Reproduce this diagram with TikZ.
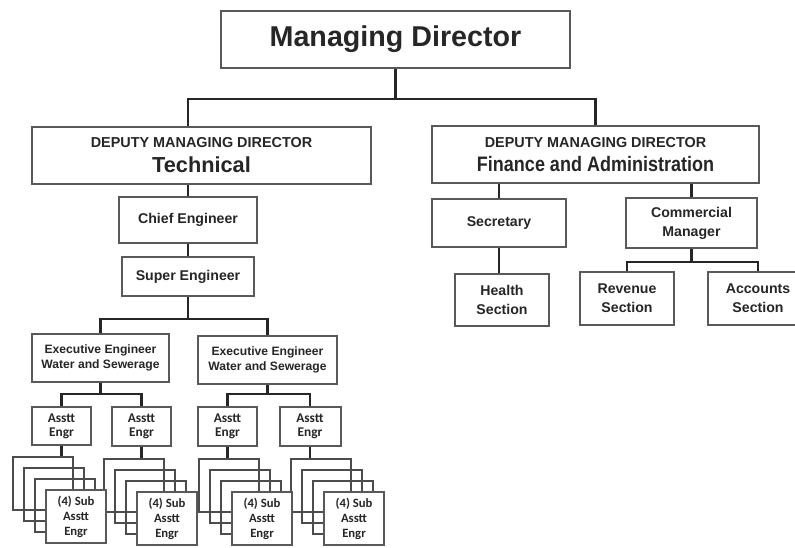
\documentclass[tikz,border=0pt]{standalone}
\usepackage{fontspec}
\usepackage{graphicx}
\setmainfont{Liberation Sans}
\newfontfamily\carl{Carlito}
\usetikzlibrary{calc,backgrounds}

\begin{document}
\begin{tikzpicture}[x=0.75pt,y=-0.75pt,
  wh/.style 2 args={minimum width=#1*0.75pt, minimum height=#2*0.75pt},
  box/.style={draw=black!65, line width=1.5pt, fill=white, inner sep=0pt,
              outer sep=0pt, align=center, text=black!85},
  back/.style={draw=black!70, line width=1.3pt, inner sep=0pt, outer sep=0pt,
               minimum width=45pt, minimum height=39.75pt},
  link/.style={draw=black!85, line width=2pt},
  bigtxt/.style={font=\bfseries\fontsize{21.5}{26}\selectfont},
  deptxt/.style={font=\bfseries\fontsize{10}{12}\selectfont},
  midtxt/.style={font=\bfseries\fontsize{10.6}{14.25}\selectfont},
  exectxt/.style={font=\bfseries\fontsize{9.1}{11.25}\selectfont},
  assttxt/.style={font=\carl\bfseries\fontsize{10}{10.75}\selectfont},
  subtxt/.style={font=\carl\bfseries\fontsize{9.5}{11.25}\selectfont}]

\useasboundingbox (0,0) rectangle (795,547);

% top level
\node[box, bigtxt, wh={349}{57}] (md) at (395.5,39.5) {Managing Director};

% deputies
\node[box, deptxt, wh={339}{57}] (tech) at (201.5,155)
  {{\bfseries\fontsize{10.8}{13}\selectfont DEPUTY MANAGING DIRECTOR}\\[7.25pt]
   {\bfseries\fontsize{16.3}{19}\selectfont Technical}};
\node[box, deptxt, wh={327}{57}] (fin) at (595.5,154.5)
  {{\bfseries\fontsize{10.8}{13}\selectfont DEPUTY MANAGING DIRECTOR}\\[6pt]
   {\bfseries\fontsize{15.7}{19}\selectfont\scalebox{0.86}[1]{Finance and Administration}}};

% technical branch
\node[box, midtxt, wh={138}{46}] (chief) at (188,220) {Chief Engineer};
\node[box, midtxt, wh={132}{39}] (super) at (188,276.5) {Super Engineer};
\node[box, exectxt, wh={137}{48}] (ex1) at (100.5,358) {Executive Engineer\\Water and Sewerage};
\node[box, exectxt, wh={139}{48}] (ex2) at (267.5,360) {Executive Engineer\\Water and Sewerage};

\node[box, assttxt, wh={59}{38}] (a1) at (61.5,426) {Asstt\\Engr};
\node[box, assttxt, wh={59}{39}] (a2) at (141.5,426.5) {Asstt\\Engr};
\node[box, assttxt, wh={59}{39}] (a3) at (227.5,426.5) {Asstt\\Engr};
\node[box, assttxt, wh={61}{39}] (a4) at (310,426.5) {Asstt\\Engr};

% stacked sub assistant engineer boxes: open outlines behind, one filled card in front
\foreach \g/\x/\y in {1/13/457, 2/104/459, 3/199/459, 4/291/459} {
  \foreach \k in {0,1,2}
    \node[back, anchor=north west] (s\g-\k) at (\x+11*\k, \y+11*\k) {};
}
\foreach \g/\x/\y in {1/13/457, 2/104/459, 3/199/459, 4/291/459}
  \node[box, subtxt, wh={60}{53}, anchor=north west] (f\g) at (\x+33, \y+33)
    {(4) Sub\\Asstt\\Engr};

% finance branch
\node[box, midtxt, wh={134}{48}] (sec) at (499,223) {Secretary};
\node[box, midtxt, wh={131}{50}] (com) at (691.5,223) {Commercial\\Manager};
\node[box, midtxt, wh={94}{52}] (health) at (502,300) {Health\\Section};
\node[box, midtxt, wh={94}{53}] (rev) at (627,298.5) {Revenue\\Section};
\node[box, midtxt, wh={100}{53}] (acc) at (758,298.5) {Accounts\\Section};

% connectors
\begin{pgfonlayer}{background}
  \draw[link] (md.south) -- ++(0,31) coordinate (mdj) -| (chief.north |- tech.north);
  \draw[link] (mdj) -| (fin.north);
  \draw[link] (chief.north |- tech.south) -- (chief.north);
  \draw[link] (chief.south) -- (super.north);
  \draw[link] (super.south) -- ++(0,23) coordinate (supj) -| (ex1.north);
  \draw[link] (supj) -| (ex2.north);
  \draw[link] (ex1.south) -- ++(0,12) coordinate (e1j) -| (a1.north);
  \draw[link] (e1j) -| (a2.north);
  \draw[link] (ex2.south) -- ++(0,10) coordinate (e2j) -| (a3.north);
  \draw[link] (e2j) -| (a4.north);
  \foreach \g in {1,2,3,4}
    \draw[link] (a\g.south) -- (a\g.south |- s\g-0.north);
  \draw[link] (sec.north |- fin.south) -- (sec.north);
  \draw[link] (com.north |- fin.south) -- (com.north);
  \draw[link] (sec.south) -- (sec.south |- health.north);
  \draw[link] (com.south) -- ++(0,14) coordinate (cj) -| (rev.north);
  \draw[link] (cj) -| (acc.north);
\end{pgfonlayer}
\end{tikzpicture}
\end{document}
